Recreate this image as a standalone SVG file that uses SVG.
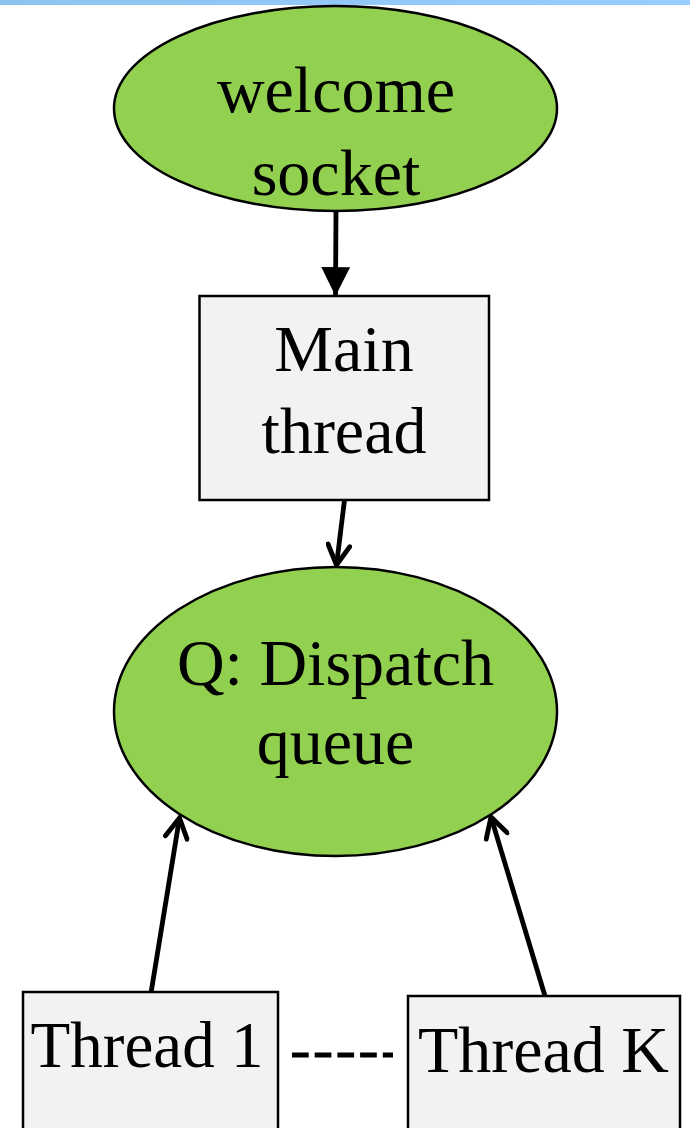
<svg xmlns="http://www.w3.org/2000/svg" width="690" height="1128" viewBox="0 0 690 1128">
  <defs>
    <linearGradient id="topBar" x1="0" y1="0" x2="1" y2="0">
      <stop offset="0" stop-color="#8ec3f1"/>
      <stop offset="1" stop-color="#99ccff"/>
    </linearGradient>
    <marker id="solidHead" viewBox="0 0 10 10" refX="10" refY="5" markerWidth="6" markerHeight="6" markerUnits="strokeWidth" orient="auto">
      <path d="M0,0 L10,5 L0,10 Z" fill="#000"/>
    </marker>
    <marker id="openHead" viewBox="0 0 12 12" refX="10.5" refY="6" markerWidth="5.5" markerHeight="5.5" markerUnits="strokeWidth" orient="auto">
      <path d="M1.5,1 L10.5,6 L1.5,11" fill="none" stroke="#000" stroke-width="2.2" stroke-linecap="round" stroke-linejoin="miter"/>
    </marker>
  </defs>
  <style>
    .oval { fill: #92d050; stroke: #000; stroke-width: 2.5; }
    .box { fill: #f2f2f2; stroke: #000; stroke-width: 2.5; }
    .label { font-family: "Liberation Serif", "Times New Roman", serif; font-size: 66px; fill: #000; text-anchor: middle; }
    .link { fill: none; stroke: #000; stroke-width: 4.8; }
  </style>

  <rect x="0" y="0" width="690" height="5" fill="url(#topBar)"/>

  <g id="connectors">
    <line class="link" x1="336" y1="211" x2="335.5" y2="296" marker-end="url(#solidHead)"/>
    <line class="link" x1="344.5" y1="500" x2="336.5" y2="565" marker-end="url(#openHead)"/>
    <line class="link" x1="151" y1="993" x2="179.5" y2="818" marker-end="url(#openHead)"/>
    <line class="link" x1="545" y1="996" x2="491" y2="817" marker-end="url(#openHead)"/>
    <line x1="292" y1="1055" x2="393" y2="1055" stroke="#000" stroke-width="5" stroke-dasharray="16.7 6"/>
  </g>

  <g id="welcome-socket">
    <ellipse class="oval" cx="335.5" cy="108.5" rx="221.5" ry="102.5"/>
    <text class="label" x="336" y="112">welcome</text>
    <text class="label" x="336" y="195">socket</text>
  </g>

  <g id="main-thread">
    <rect class="box" x="199.5" y="296" width="289.5" height="204"/>
    <text class="label" x="344" y="371">Main</text>
    <text class="label" x="344" y="453">thread</text>
  </g>

  <g id="dispatch-queue">
    <ellipse class="oval" cx="335.5" cy="711.5" rx="221.5" ry="144.5"/>
    <text class="label" x="335.5" y="685">Q: Dispatch</text>
    <text class="label" x="335.5" y="764">queue</text>
  </g>

  <g id="thread-1">
    <rect class="box" x="23" y="992" width="255" height="140"/>
    <text class="label" x="147" y="1067" style="font-size:65px">Thread 1</text>
  </g>

  <g id="thread-k">
    <rect class="box" x="408" y="996" width="272" height="136"/>
    <text class="label" x="543.5" y="1072">Thread K</text>
  </g>
</svg>
